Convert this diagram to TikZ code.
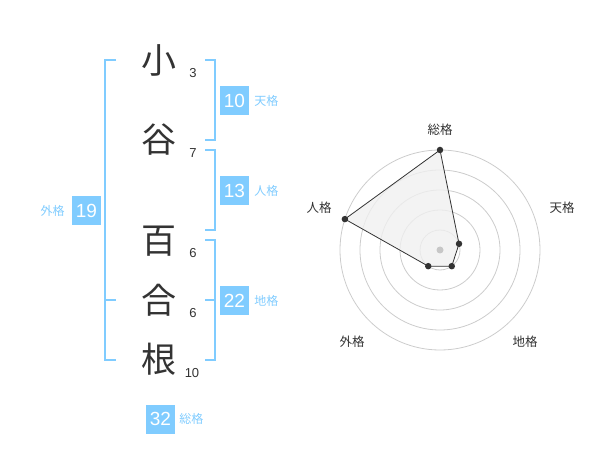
\documentclass[tikz,border=0pt]{standalone}
\usepackage{fontspec}
\setmainfont{Liberation Sans}
\newfontfamily\jpfont{Noto Sans CJK JP}
\usetikzlibrary{positioning}

\definecolor{skyblue}{RGB}{128,204,255}
\definecolor{inkgrey}{RGB}{51,51,51}

\begin{document}
\begin{tikzpicture}
    [
        x=1pt,
        y=-1pt,
        node distance=5pt,
        kanji/.style={font=\jpfont\fontsize{35}{35}\selectfont, text=inkgrey, inner sep=0pt},
        strokes/.style={font=\fontsize{13}{13}\selectfont, text=inkgrey, inner sep=0pt},
        bracket/.style={draw=skyblue, line width=2pt},
        score/.style={fill=skyblue, text=white, minimum size=29pt, inner sep=0pt,
            font=\fontsize{19}{19}\selectfont},
        score label/.style={text=skyblue, inner sep=0pt, font=\jpfont\fontsize{12}{12}\selectfont},
        ring/.style={draw=black!20, line width=0.8pt},
        axis label/.style={text=inkgrey, inner sep=0pt, font=\jpfont\fontsize{12.5}{12.5}\selectfont},
        vertex/.style={circle, fill=inkgrey, inner sep=0pt, minimum size=6.5pt}
    ]
    \useasboundingbox (0,0) rectangle (600,470);

    % name, one character per line
    \node (ko)    [kanji] at (159,60)  {小};
    \node (tani)  [kanji] at (159,140) {谷};
    \node (hyaku) [kanji] at (159,241) {百};
    \node (go)    [kanji] at (159,300) {合};
    \node (ne)    [kanji] at (159,359) {根};

    \node (ko n)    [strokes] at (193,73)  {3};
    \node (tani n)  [strokes] at (193,153) {7};
    \node (hyaku n) [strokes] at (193,253) {6};
    \node (go n)    [strokes] at (193,313) {6};
    \node (ne n)    [strokes] at (192,373) {10};

    % brackets
    \draw[bracket] (116,60) -- (105,60) -- (105,360) -- (116,360)
                   (105,300) -- (116,300);
    \draw[bracket] (205,60) -- (215,60) -- (215,140) -- (205,140);
    \draw[bracket] (205,150) -- (215,150) -- (215,230) -- (205,230);
    \draw[bracket] (205,240) -- (215,240) -- (215,360) -- (205,360)
                   (205,300) -- (215,300);

    % scores
    \node (tenkaku) [score] at (234.5,100.5) {10};
    \node (jinkaku) [score] at (234.5,190.5) {13};
    \node (gaikaku) [score] at (86.5,210.5)  {19};
    \node (chikaku) [score] at (234.5,300.5) {22};
    \node (soukaku) [score] at (160.5,419)   {32};

    \node (tenkaku label) [score label, right=of tenkaku] {天格};
    \node (jinkaku label) [score label, right=of jinkaku] {人格};
    \node (gaikaku label) [score label, left=7pt of gaikaku] {外格};
    \node (chikaku label) [score label, right=of chikaku] {地格};
    \node (soukaku label) [score label, right=4pt of soukaku] {総格};

    % radar chart
    \begin{scope}[shift={(440,250)}, y=1pt]
        \foreach \r in {20,40,...,100}
            \draw[ring] (0,0) circle (\r pt);

        \coordinate (p sou)  at (90:100);
        \coordinate (p ten)  at (18:20);
        \coordinate (p chi)  at (-54:20);
        \coordinate (p gai)  at (234:20);
        \coordinate (p jin)  at (162:100);

        \filldraw[fill=black!6, draw=inkgrey, line width=0.8pt, fill opacity=0.8]
            (p sou) -- (p ten) -- (p chi) -- (p gai) -- (p jin) -- cycle;
        \node (centre) [circle, fill=black!22, inner sep=0pt, minimum size=7pt] at (0,0) {};

        \foreach \p in {sou,ten,chi,gai,jin}
            \node (v \p) [vertex] at (p \p) {};

        \node (a sou) [axis label] at (0,120)    {総格};
        \node (a ten) [axis label] at (122,42)   {天格};
        \node (a chi) [axis label] at (85,-92)   {地格};
        \node (a gai) [axis label] at (-88,-92)  {外格};
        \node (a jin) [axis label] at (-121,42)  {人格};
    \end{scope}
\end{tikzpicture}
\end{document}
